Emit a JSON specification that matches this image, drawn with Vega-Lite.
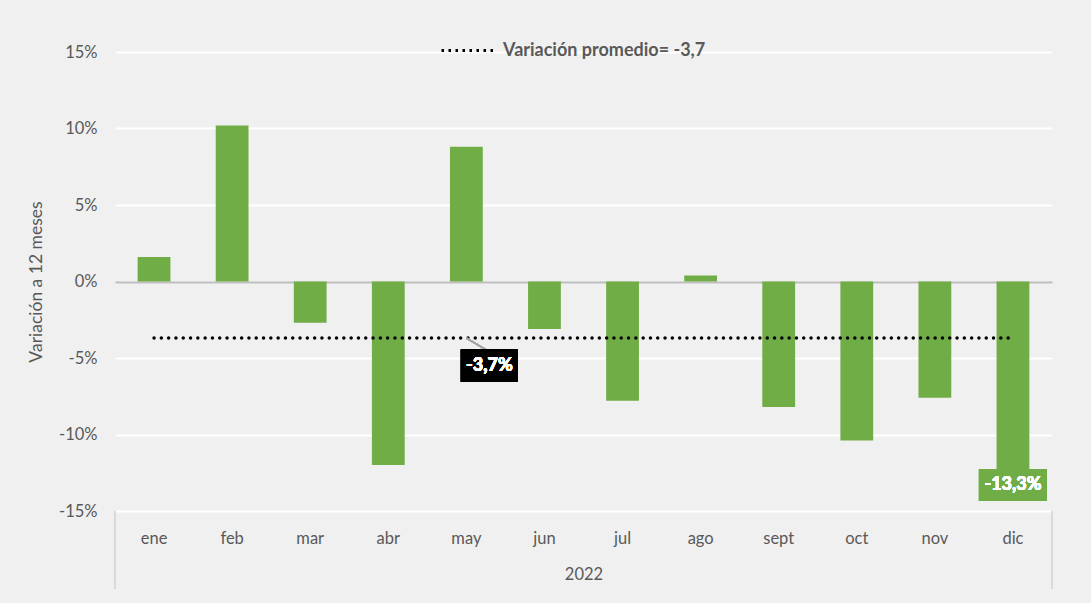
{
  "$schema": "https://vega.github.io/schema/vega-lite/v6.json",
  "width": 937,
  "height": 459,
  "autosize": {"type": "none"},
  "padding": {"left": 115, "top": 52, "right": 39, "bottom": 92},
  "background": "#f0f0f0",
  "config": {
    "view": {"stroke": null},
    "font": "Lato",
    "axis": {"labelFont": "Lato", "titleFont": "Lato", "labelColor": "#595959", "titleColor": "#595959"}
  },
  "data": {
    "values": [
      {"mes": "ene", "var": 1.6, "prom": -3.7},
      {"mes": "feb", "var": 10.2, "prom": -3.7},
      {"mes": "mar", "var": -2.7, "prom": -3.7},
      {"mes": "abr", "var": -12.0, "prom": -3.7},
      {"mes": "may", "var": 8.8, "prom": -3.7},
      {"mes": "jun", "var": -3.1, "prom": -3.7},
      {"mes": "jul", "var": -7.8, "prom": -3.7},
      {"mes": "ago", "var": 0.4, "prom": -3.7},
      {"mes": "sept", "var": -8.2, "prom": -3.7},
      {"mes": "oct", "var": -10.4, "prom": -3.7},
      {"mes": "nov", "var": -7.6, "prom": -3.7},
      {"mes": "dic", "var": -13.3, "prom": -3.7}
    ]
  },
  "layer": [
    {
      "mark": {"type": "bar", "color": "#70ad47"},
      "encoding": {
        "x": {
          "field": "mes", "type": "nominal", "sort": null,
          "scale": {"paddingInner": 0.58, "paddingOuter": 0.29},
          "axis": {
            "title": "2022", "labelAngle": 0, "ticks": false, "domain": false,
            "labelFontSize": 16.5, "labelPadding": 19, "titleFontSize": 16.5,
            "titleFontWeight": "normal", "titlePadding": 20
          }
        },
        "y": {
          "field": "var", "type": "quantitative",
          "scale": {"domain": [-15, 15], "nice": false},
          "axis": {
            "title": "Variación a 12 meses", "values": [-15, -10, -5, 0, 5, 10, 15],
            "labelExpr": "datum.value + '%'", "ticks": false, "domain": false,
            "labelFontSize": 16.5, "labelPadding": 18, "titleFontSize": 17.5,
            "titleFontWeight": "normal", "titlePadding": 13,
            "gridColor": {"condition": {"test": "datum.value === 0", "value": "#bfbfbf"}, "value": "#ffffff"},
            "gridWidth": 2
          }
        }
      }
    },
    {
      "mark": {"type": "line", "strokeDash": [0, 7.3], "strokeCap": "round", "strokeWidth": 3.5},
      "encoding": {
        "x": {"field": "mes", "type": "nominal", "sort": null},
        "y": {"field": "prom", "type": "quantitative"},
        "color": {
          "datum": "Variación promedio= -3,7",
          "scale": {"range": ["#000000"]},
          "legend": {
            "title": null, "orient": "none", "legendX": 325, "legendY": -29,
            "symbolType": "stroke", "symbolSize": 2704, "symbolStrokeWidth": 3,
            "symbolDash": [2.5, 4.5], "symbolStrokeColor": "#000000",
            "labelFontSize": 18, "labelFontWeight": "bold", "labelColor": "#595959",
            "labelFont": "Lato", "labelOffset": 8, "labelLimit": 0
          }
        }
      }
    },
    {
      "mark": {"type": "rule", "color": "#a6a6a6", "strokeWidth": 1.5, "x2Offset": 22},
      "encoding": {
        "x": {"datum": "may"},
        "x2": {"datum": "may"},
        "y": {"datum": -3.7},
        "y2": {"datum": -4.55}
      }
    },
    {
      "mark": {"type": "bar", "color": "#000000", "width": 57, "xOffset": 23},
      "encoding": {
        "x": {"datum": "may"},
        "y": {"datum": -4.45},
        "y2": {"datum": -6.55}
      }
    },
    {
      "mark": {"type": "text", "color": "#ffffff", "fontWeight": "bold", "fontSize": 18, "dx": 23, "font": "Lato"},
      "encoding": {
        "x": {"datum": "may"},
        "y": {"datum": -5.5},
        "text": {"value": "-3,7%"}
      }
    },
    {
      "mark": {"type": "bar", "color": "#70ad47", "width": 68},
      "encoding": {
        "x": {"datum": "dic"},
        "y": {"datum": -12.25},
        "y2": {"datum": -14.35}
      }
    },
    {
      "mark": {"type": "text", "color": "#ffffff", "fontWeight": "bold", "fontSize": 18, "font": "Lato"},
      "encoding": {
        "x": {"datum": "dic"},
        "y": {"datum": -13.3},
        "text": {"value": "-13,3%"}
      }
    },
    {
      "mark": {"type": "rule", "color": "#d9d9d9", "strokeWidth": 2},
      "encoding": {
        "x": {"datum": "ene", "bandPosition": -0.6905},
        "y": {"datum": -15},
        "y2": {"datum": -20.05}
      }
    },
    {
      "mark": {"type": "rule", "color": "#d9d9d9", "strokeWidth": 2},
      "encoding": {
        "x": {"datum": "dic", "bandPosition": 1.6905},
        "y": {"datum": -15},
        "y2": {"datum": -20.05}
      }
    }
  ]
}
